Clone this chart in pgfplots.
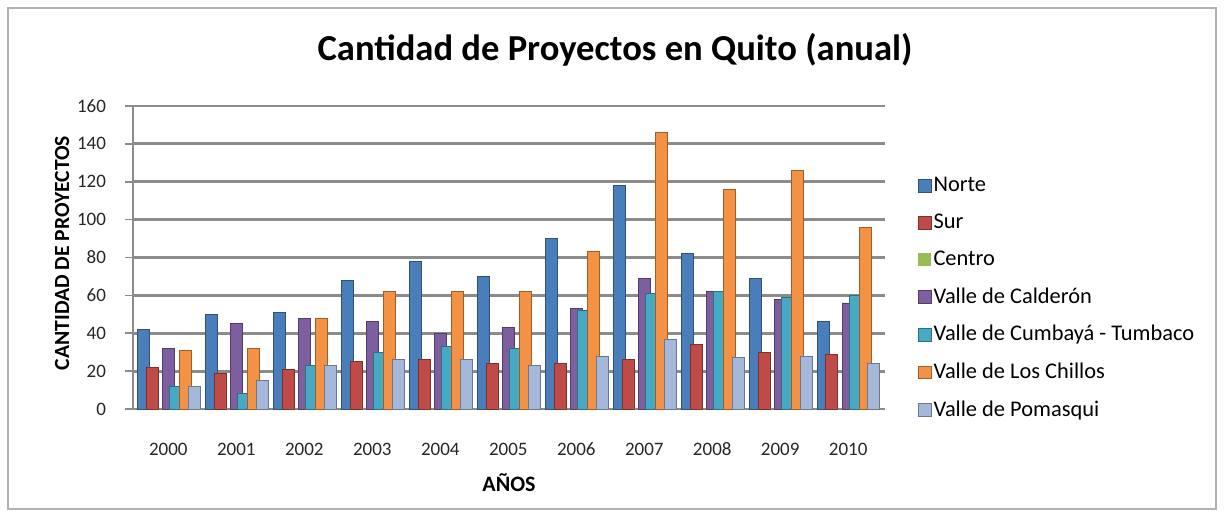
\documentclass[border=0pt]{standalone}
\usepackage{fontspec}
\setmainfont{Carlito}
\usepackage{pgfplots}
\pgfplotsset{compat=1.18}
\definecolor{cnorte}{HTML}{4A7EBB}
\definecolor{csur}{HTML}{BE4B48}
\definecolor{ccentro}{HTML}{9BBB59}
\definecolor{ccald}{HTML}{7D5FA0}
\definecolor{ccumb}{HTML}{46AAC5}
\definecolor{cchil}{HTML}{F39244}
\definecolor{cpoma}{HTML}{A5B8DA}
\definecolor{gridgray}{HTML}{8C8C8C}
\pgfplotsset{
  bar3d/.style={ybar, bar width=6pt, bar shift=#1},
  flatbar/.style={fill=#1, draw=#1!65!black, line width=0.4pt},
}
\begin{document}
\begin{tikzpicture}
% page extent and frame
\path (-66.5pt,-54pt) rectangle (545.5pt,204.5pt);
\draw[gray!60, line width=0.8pt] (-62.5pt,-50pt) rectangle (541.5pt,200.5pt);
\begin{axis}[
  at={(0,0)}, anchor=south west,
  scale only axis, width=376pt, height=151.5pt,
  xmin=1999.48, xmax=2010.54, ymin=0, ymax=160,
  xtick={2000,...,2010}, ytick={0,20,...,160},
  /pgf/number format/1000 sep={},
  /pgf/number format/assume math mode=true,
  axis lines=left,
  axis line style={gridgray, line width=1.4pt, -},
  ymajorgrids,
  major grid style={gridgray, line width=1.4pt},
  tick align=outside,
  major tick length=4pt,
  ytick style={gridgray, line width=0.8pt},
  xtick style={draw=none},
  ticklabel style={font=\fontsize{9.5}{11}\selectfont, text=black!85},
  yticklabel style={xshift=-6pt},
  xticklabel style={yshift=-9pt, text height=1.4ex, text depth=0.2ex},
  clip=false,
  legend cell align=left,
  legend style={at={(rel axis cs:1.035,0.785)}, anchor=north west, draw=none,
    fill=none, font=\fontsize{11.2}{13}\selectfont, row sep=7.6pt,
    nodes={inner sep=1pt}},
  legend image code/.code={\path[#1] (-0.8pt,-3.2pt) rectangle (5.7pt,3.2pt);},
]
\addplot[bar3d=-12.6pt, flatbar=cnorte] coordinates {(2000,42) (2001,50) (2002,51) (2003,68) (2004,78) (2005,70) (2006,90) (2007,118) (2008,82) (2009,69) (2010,46)};
\addlegendentry{Norte}
\addplot[bar3d=-8.2pt, flatbar=csur] coordinates {(2000,22) (2001,19) (2002,21) (2003,25) (2004,26) (2005,24) (2006,24) (2007,26) (2008,34) (2009,30) (2010,29)};
\addlegendentry{Sur}
\addplot[bar3d=-4.2pt, fill=ccentro, draw=none] coordinates {(2000,0) (2001,0) (2002,0) (2003,0) (2004,0) (2005,0) (2006,0) (2007,0) (2008,0) (2009,0) (2010,0)};
\addlegendentry{Centro}
\addplot[bar3d=0pt, flatbar=ccald] coordinates {(2000,32) (2001,45) (2002,48) (2003,46) (2004,40) (2005,43) (2006,53) (2007,69) (2008,62) (2009,58) (2010,56)};
\addlegendentry{Valle de Calderón}
\addplot[bar3d=3.6pt, flatbar=ccumb] coordinates {(2000,12) (2001,8) (2002,23) (2003,30) (2004,33) (2005,32) (2006,52) (2007,61) (2008,62) (2009,59) (2010,60)};
\addlegendentry{Valle de Cumbayá - Tumbaco}
\addplot[bar3d=8.4pt, flatbar=cchil] coordinates {(2000,31) (2001,32) (2002,48) (2003,62) (2004,62) (2005,62) (2006,83) (2007,146) (2008,116) (2009,126) (2010,96)};
\addlegendentry{Valle de Los Chillos}
\addplot[bar3d=12.8pt, flatbar=cpoma] coordinates {(2000,12) (2001,15) (2002,23) (2003,26) (2004,26) (2005,23) (2006,28) (2007,37) (2008,27) (2009,28) (2010,24)};
\addlegendentry{Valle de Pomasqui}
\end{axis}
\node[font=\fontsize{18.3}{21}\selectfont\bfseries] at (241pt,179.5pt) {Cantidad de Proyectos en Quito (anual)};
\node[font=\fontsize{10.8}{12}\selectfont\bfseries, rotate=90] at (-35.5pt,78pt) {CANTIDAD DE PROYECTOS};
\node[font=\fontsize{11}{12}\selectfont\bfseries] at (188pt,-37pt) {AÑOS};
\end{tikzpicture}
\end{document}
